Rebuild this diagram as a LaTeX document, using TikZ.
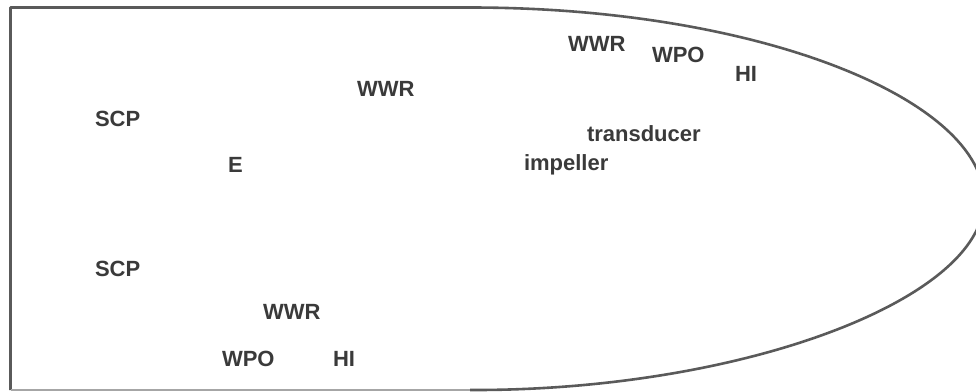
\documentclass[tikz,border=0pt]{standalone}
\usepackage{fontspec}
\setmainfont{Liberation Sans}
\definecolor{linegray}{HTML}{5A5A5A}
\definecolor{textgray}{HTML}{3A3A3A}
\begin{document}
\begin{tikzpicture}[x=1pt,y=-1pt,
  lbl/.style={anchor=base west,inner sep=0pt,outer sep=0pt,text=textgray,font=\fontsize{22}{26}\selectfont\bfseries},
  outline/.style={draw=linegray,line width=2.6pt,line join=round}]
\useasboundingbox (0,0) rectangle (976,391);
\clip (0,0) rectangle (976,391);
\fill[white] (0,0) rectangle (976,391);
% hull outline
\coordinate (tl) at (10.5,7.5);
\coordinate (ts) at (470,7.5);
\coordinate (tip) at (984,200);
\coordinate (bs) at (470,390);
\coordinate (bl) at (10.5,390);
\draw[outline] (bl) -- (tl) -- (ts) .. controls (760,7.5) and (984,100) .. (tip)
  .. controls (984,300) and (740,391) .. (bs);
\draw[draw=gray!70,line width=1.6pt] (bs) -- (bl);
% labels
\node[lbl] (scp1) at (95,126) {SCP};
\node[lbl] (e) at (228,172) {E};
\node[lbl] (wwr1) at (357,96) {WWR};
\node[lbl] (wwr2) at (568,51) {WWR};
\node[lbl] (wpo1) at (652,62) {WPO};
\node[lbl] (hi1) at (735,81) {HI};
\node[lbl] (trans) at (587,141) {transducer};
\node[lbl] (imp) at (524,170) {impeller};
\node[lbl] (scp2) at (95,276) {SCP};
\node[lbl] (wwr3) at (263,319) {WWR};
\node[lbl] (wpo2) at (222,366) {WPO};
\node[lbl] (hi2) at (333,366) {HI};
\end{tikzpicture}
\end{document}
